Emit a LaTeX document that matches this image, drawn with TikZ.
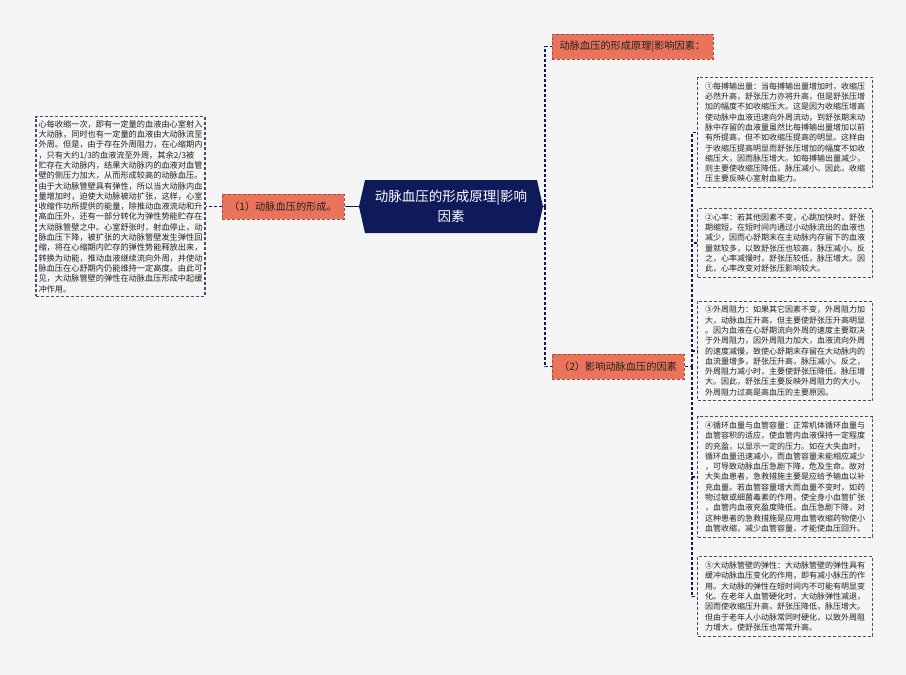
\documentclass[tikz,border=0pt]{standalone}
\usepackage{fontspec}
\newfontfamily\cjk{Noto Sans CJK SC}

\begin{document}
\begin{tikzpicture}[x=1pt,y=-1pt]

\definecolor{navy}{HTML}{0F1A5B}
\definecolor{salmon}{HTML}{E9735B}
\definecolor{rust}{HTML}{A84A38}
\definecolor{ink}{HTML}{222222}
\definecolor{paper}{HTML}{F5F5F5}
\definecolor{frame}{HTML}{4A4D70}
\tikzset{topic/.style = {text=white,align=center,minimum width=184,minimum height=53,font=\cjk\fontsize{13.5}{19.5}\selectfont}}
\tikzset{branch/.style = {draw=rust,fill=salmon,dash pattern=on 3pt off 2pt,line width=1pt,text=ink,minimum height=25,inner xsep=6,font=\cjk\fontsize{10.2}{12}\selectfont}}
\tikzset{leaf/.style = {draw=frame,fill=paper,dash pattern=on 3pt off 2pt,line width=1.1pt,text=ink,align=left,inner xsep=7,inner ysep=5,minimum width=175,font=\cjk\fontsize{8}{10.3}\selectfont}}
\tikzset{link/.style = {draw=navy,line width=1.2pt,dash pattern=on 3pt off 2pt}}

\fill[paper] (0,0) rectangle (906,675);

%nodes
\fill[navy] (365,180) -- (537,180) -- (543,206.5) -- (537,233) -- (365,233) -- (359,206.5) -- cycle;
\node[topic] (c) at (451,206.5) {动脉血压的形成原理|影响\\因素};
\node[branch, minimum width=122] (b1) at (283,206.5) {（1）动脉血压的形成。};
\node[leaf, inner xsep=2, inner ysep=3.5, minimum width=169, font=\cjk\fontsize{8.2}{10.3}\selectfont] (l1) at (120.5,206.5) {心每收缩一次，即有一定量的血液由心室射入\\大动脉，同时也有一定量的血液由大动脉流至\\外周。但是，由于存在外周阻力，在心缩期内\\，只有大约1/3的血液流至外周，其余2/3被\\贮存在大动脉内，结果大动脉内的血液对血管\\壁的侧压力加大，从而形成较高的动脉血压。\\由于大动脉管壁具有弹性，所以当大动脉内血\\量增加时，迫使大动脉被动扩张，这样，心室\\收缩作功所提供的能量，除推动血液流动和升\\高血压外，还有一部分转化为弹性势能贮存在\\大动脉管壁之中。心室舒张时，射血停止，动\\脉血压下降，被扩张的大动脉管壁发生弹性回\\缩，将在心缩期内贮存的弹性势能释放出来，\\转换为动能，推动血液继续流向外周，并使动\\脉血压在心舒期内仍能维持一定高度。由此可\\见，大动脉管壁的弹性在动脉血压形成中起缓\\冲作用。};
\node[branch, minimum width=161] (h1) at (632.5,46.5) {动脉血压的形成原理|影响因素：};
\node[branch, minimum width=132] (h2) at (618,366.5) {（2）影响动脉血压的因素};
\node[leaf, anchor=west] (p1) at (697,132.5) {①每搏输出量：当每搏输出量增加时，收缩压\\必然升高，舒张压力亦将升高，但是舒张压增\\加的幅度不如收缩压大。这是因为收缩压增高\\使动脉中血液迅速向外周流动，到舒张期末动\\脉中存留的血液量虽然比每搏输出量增加以前\\有所提高，但不如收缩压提高的明显。这样由\\于收缩压提高明显而舒张压增加的幅度不如收\\缩压大，因而脉压增大。如每搏输出量减少，\\则主要使收缩压降低，脉压减小。因此，收缩\\压主要反映心室射血能力。};
\node[leaf, anchor=west] (p2) at (697,243) {②心率：若其他因素不变，心跳加快时，舒张\\期缩短，在短时间内通过小动脉流出的血液也\\减少，因而心舒期末在主动脉内存留下的血液\\量就较多，以致舒张压也较高，脉压减小。反\\之，心率减慢时，舒张压较低，脉压增大。因\\此，心率改变对舒张压影响较大。};
\node[leaf, anchor=west] (p3) at (697,351) {③外周阻力：如果其它因素不变，外周阻力加\\大，动脉血压升高，但主要使舒张压升高明显\\。因为血液在心舒期流向外周的速度主要取决\\于外周阻力，因外周阻力加大，血液流向外周\\的速度减慢，致使心舒期末存留在大动脉内的\\血流量增多，舒张压升高，脉压减小。反之，\\外周阻力减小时，主要使舒张压降低，脉压增\\大。因此，舒张压主要反映外周阻力的大小。\\外周阻力过高是高血压的主要原因。};
\node[leaf, anchor=west] (p4) at (697,477) {④循环血量与血管容量：正常机体循环血量与\\血管容积的适应，使血管内血液保持一定程度\\的充盈，以显示一定的压力。如在大失血时，\\循环血量迅速减小，而血管容量未能相应减少\\，可导致动脉血压急剧下降，危及生命。故对\\大失血患者，急救措施主要是应给予输血以补\\充血量。若血管容量增大而血量不变时，如药\\物过敏或细菌毒素的作用，使全身小血管扩张\\，血管内血液充盈度降低，血压急剧下降，对\\这种患者的急救措施是应用血管收缩药物使小\\血管收缩，减少血管容量，才能使血压回升。};
\node[leaf, anchor=west] (p5) at (697,596.5) {⑤大动脉管壁的弹性：大动脉管壁的弹性具有\\缓冲动脉血压变化的作用，即有减小脉压的作\\用。大动脉的弹性在短时间内不可能有明显变\\化。在老年人血管硬化时，大动脉弹性减退，\\因而使收缩压升高，舒张压降低，脉压增大。\\但由于老年人小动脉常同时硬化，以致外周阻\\力增大，使舒张压也常常升高。};
\coordinate (j1) at (545,206.5);
\coordinate (j2) at (692,366.5);

%edges
\draw[navy, line width=1.2pt] (c.west) -- (b1.east);
\draw[link] (b1.west) -- (l1.east);
\draw[link] (c.east) -- (j1);
\draw[link] (j1) |- (h1.west);
\draw[link] (j1) |- (h2.west);
\draw[link] (h2.east) -- (j2);
\foreach \p in {p1,p2,p3,p4,p5}
  \draw[link] (j2) |- (\p.west);

\end{tikzpicture}
\end{document}
